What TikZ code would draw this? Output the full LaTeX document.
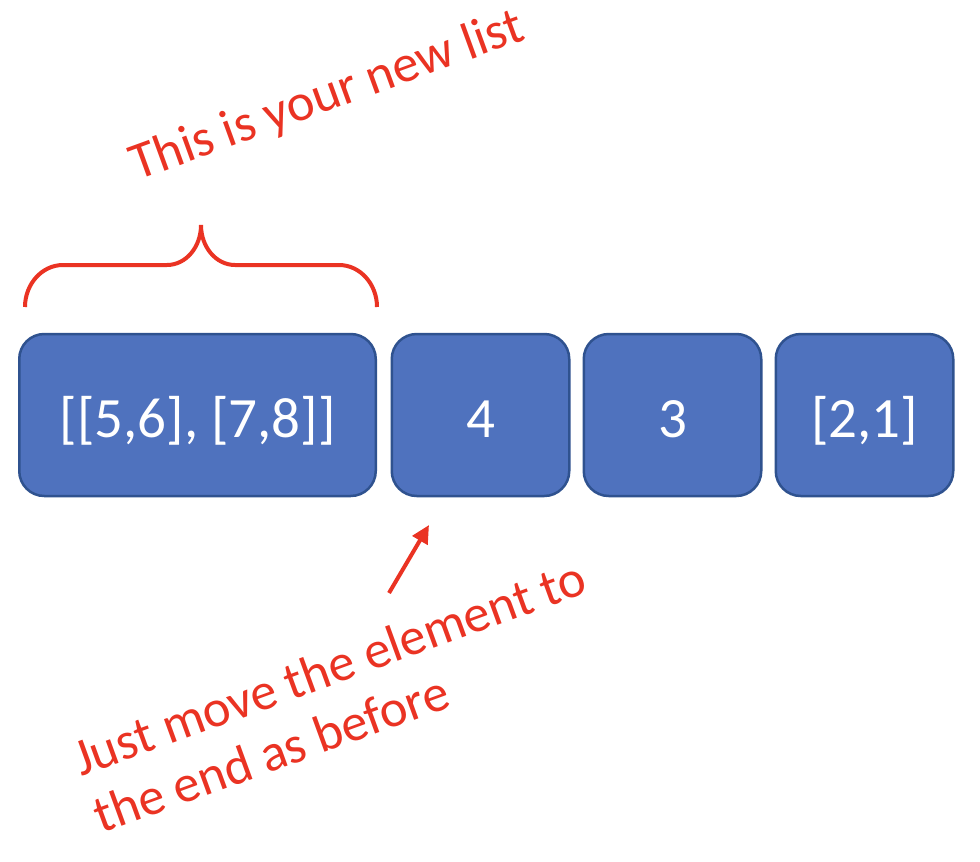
\documentclass[tikz,border=0pt]{standalone}
\usepackage{fontspec}
\setmainfont{Carlito}
\usetikzlibrary{positioning,arrows.meta}
\definecolor{lsBlue}{RGB}{79,114,190}
\definecolor{lsEdge}{RGB}{47,82,143}
\definecolor{lsRed}{RGB}{234,51,35}
\tikzset{
  cell/.style={draw=lsEdge, line width=2.5pt, fill=lsBlue, rounded corners=25pt,
    minimum width=177.5pt, minimum height=162pt, inner sep=0pt, text=white,
    font=\fontsize{57}{68}\selectfont, text height=44pt, text depth=0pt},
  note/.style={text=lsRed, font=\fontsize{52.5}{62}\selectfont, rotate=20,
    anchor=base west, inner sep=0pt},
  pointer/.style={lsRed, line width=4pt, -{Triangle[length=18pt,width=17pt]}}
}
\begin{document}
\begin{tikzpicture}[x=1pt, y=-1pt]
  \useasboundingbox (0,0) rectangle (980,862);

  % List cells
  \node[cell, minimum width=356.5pt] (rest) at (197.5,415) {[[5,6], [7,8]]};
  \node[cell, right=13.5pt of rest] (four) {4};
  \node[cell, right=12pt of four] (three) {3};
  \node[cell, right=12pt of three] (pair) {[2,1]};

  % Brace over the new list
  \draw[lsRed, line width=4pt]
    (25,307) .. controls (25,284) and (42,265) .. (63,265) -- (167,265)
    .. controls (186,265) and (201,247) .. (201,225)
    .. controls (201,247) and (216,265) .. (235,265) -- (339,265)
    .. controls (360,265) and (377,284) .. (377,307);
  \node[note] (newlist) at (137,181) {This is your new list};

  % Hint
  \coordinate (tail) at (389,593);
  \coordinate (tip) at (429,525);
  \draw[pointer] (tail) -- (tip);
  \node[note] (moveA) at (81,777) {Just move the element to};
  \node[note] (moveB) at (101.5,834) {the end as before};
\end{tikzpicture}
\end{document}
